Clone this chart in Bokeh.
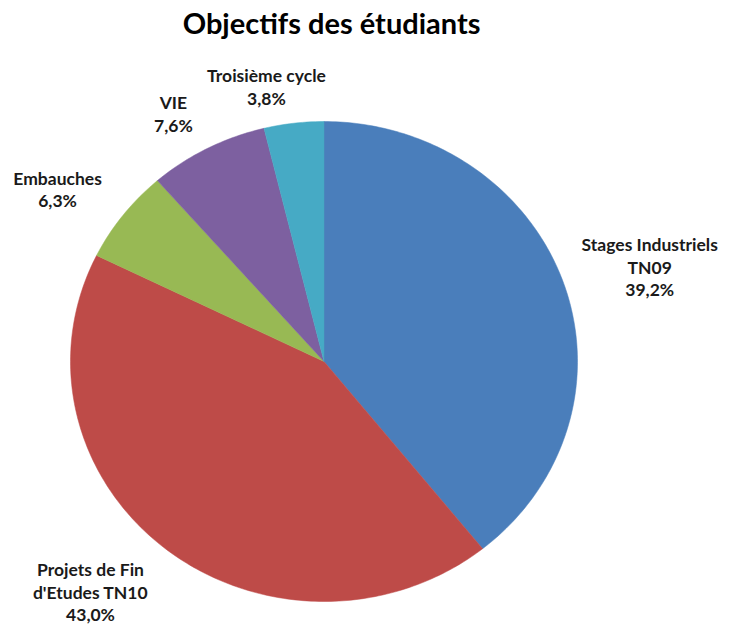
import numpy as np
from bokeh.plotting import figure
from bokeh.models import Range1d, ColumnDataSource
from bokeh.core.properties import value
from bokeh.embed import file_html
from bokeh.resources import INLINE

# ---- data ----
categories = ["Stages Industriels TN09", "Projets de Fin d'Etudes TN10", "Embauches", "VIE", "Troisième cycle"]
label_lines = [["Stages Industriels", "TN09"], ["Projets de Fin", "d'Etudes TN10"], ["Embauches"], ["VIE"], ["Troisième cycle"]]
percent_labels = ["39,2%", "43,0%", "6,3%", "7,6%", "3,8%"]
values = [39.2, 43.0, 6.3, 7.6, 3.8]
title_text = "Objectifs des étudiants"

# ---- styles ----
colors = ["#4A7EBB", "#BE4B48", "#98B954", "#7D60A0", "#46AAC5"]
label_pos = [(1.285, 0.392), (-0.921, -0.962), (-1.051, 0.717), (-0.594, 1.031), (-0.227, 1.144)]
FONT = "Lato"
LINE_H = 22.5

W, H = 729, 626
p = figure(width=W, height=H, output_backend="svg", toolbar_location=None,
           x_range=Range1d(-1.2761, 1.5996), y_range=Range1d(-1.1042, 1.5042),
           min_border=0, outline_line_color=None)
p.axis.visible = False
p.grid.visible = False

total = sum(values)
xs, ys = [], []
start = 0.0
for v in values:
    a0 = start / total * 2 * np.pi
    a1 = (start + v) / total * 2 * np.pi
    t = np.linspace(a0, a1, max(4, int(v * 4)))
    xs.append([0.0] + list(np.sin(t)))
    ys.append([0.0] + list(np.cos(t)))
    start += v

src = ColumnDataSource(dict(xs=xs, ys=ys, color=colors))
p.patches("xs", "ys", source=src, fill_color="color", line_color="color", line_width=0.5)

# labels
tx, ty, tt, toff = [], [], [], []
for lines, pct, (lx, ly) in zip(label_lines, percent_labels, label_pos):
    all_lines = lines + [pct]
    n = len(all_lines)
    for i, s in enumerate(all_lines):
        tx.append(lx)
        ty.append(ly)
        tt.append(s)
        toff.append((i - (n - 1) / 2) * LINE_H)

lsrc = ColumnDataSource(dict(x=tx, y=ty, text=tt, yo=toff))
p.text("x", "y", text="text", y_offset="yo", source=lsrc, text_font=value(FONT),
       text_font_style="bold", text_font_size="17.5px", text_color="#1a1a1a",
       text_align="center", text_baseline="middle")

p.text(x=[0.03], y=[1.4125], text=[title_text], text_font=value(FONT), text_font_style="bold",
       text_font_size="29px", text_color="#000000", text_align="center", text_baseline="alphabetic")

open("out.html", "w").write(file_html(p, INLINE))
